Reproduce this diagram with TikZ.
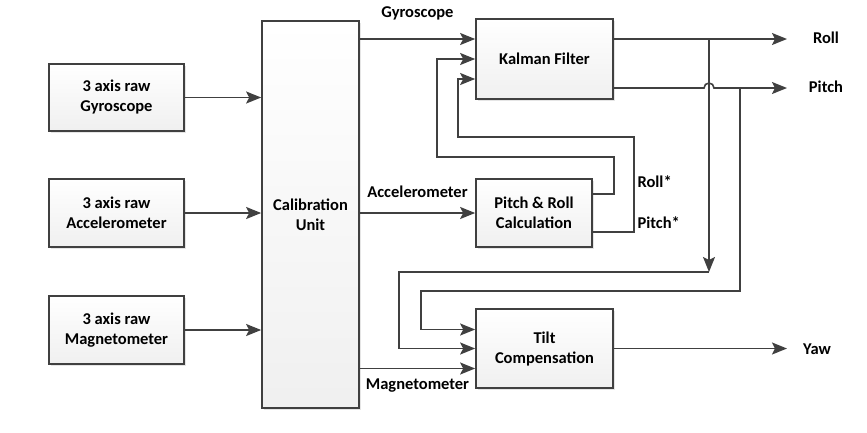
\documentclass[tikz,border=0pt]{standalone}
\usepackage{fontspec}
\setmainfont{Carlito}
\usetikzlibrary{arrows.meta,shadows}
\definecolor{linegray}{HTML}{404040}
\tikzset{
	block/.style={draw=linegray, line width=1.7pt, top color=white, bottom color=gray!12,
		drop shadow={shadow xshift=2pt, shadow yshift=-2pt, fill=gray!40, opacity=0.5},
		align=center, inner sep=0pt},
	wire/.style={draw=linegray, line width=1.6pt},
	arr/.style={wire, -{Stealth[length=15pt,width=12pt,inset=3pt]}},
}
\begin{document}
\begin{tikzpicture}[x=1pt, y=-1pt, font=\fontsize{16.5}{20}\selectfont\bfseries]
		\useasboundingbox (0,0) rectangle (867,432);
		\def\tipx{787}
		% blocks
		\node[block, minimum width=135pt, minimum height=67pt] (gyro) at (116.5,97.5) {3 axis raw\\Gyroscope};
		\node[block, minimum width=135pt, minimum height=68pt] (acc) at (116.5,213) {3 axis raw\\Accelerometer};
		\node[block, minimum width=135pt, minimum height=68pt] (mag) at (116.5,330) {3 axis raw\\Magnetometer};
		\node[block, minimum width=97pt, minimum height=387pt] (calib) at (310.5,214.5) {Calibration\\Unit};
		\node[block, minimum width=137pt, minimum height=80pt] (kalman) at (544.5,59) {Kalman Filter};
		\node[block, minimum width=116pt, minimum height=68pt] (prc) at (534,213) {Pitch \& Roll\\Calculation};
		\node[block, minimum width=137pt, minimum height=79pt] (tilt) at (544.5,348.5) {Tilt\\Compensation};
		% ports
		\coordinate (kin1) at ([yshift=20pt]kalman.west);
		\coordinate (kin3) at ([yshift=-20pt]kalman.west);
		\coordinate (kout1) at ([yshift=20pt]kalman.east);
		\coordinate (kout2) at ([yshift=-29pt]kalman.east);
		\coordinate (pout1) at ([yshift=19pt]prc.east);
		\coordinate (pout2) at ([yshift=-19pt]prc.east);
		\coordinate (tin1) at ([yshift=19pt]tilt.west);
		\coordinate (tin3) at ([yshift=-20pt]tilt.west);
		\coordinate (rollend) at (\tipx,39);
		\coordinate (pitchend) at (\tipx,88);
		\coordinate (yawend) at (\tipx,348.5);
		\coordinate (rj) at (709,39);
		\coordinate (rc) at (709,272);
		\coordinate (pj) at (740,88);
		% raw sensors into calibration
		\draw[arr] (gyro.east) -- (gyro.east -| calib.west);
		\draw[arr] (acc.east) -- (acc.east -| calib.west);
		\draw[arr] (mag.east) -- (mag.east -| calib.west);
		% calibrated signals
		\draw[arr] (calib.east |- kin1) -- (kin1) node[midway, above=15pt] {Gyroscope};
		\draw[arr] (calib.east |- prc.west) -- (prc.west) node[midway, above=11pt] {Accelerometer};
		\draw[arr] (calib.east |- tin3) -- (tin3) node[midway, below=6pt] {Magnetometer};
		% feedback into kalman filter
		\draw[arr] (pout1) -- ++(21,0) |- (437,157) |- (kalman.west);
		\draw[arr] (pout2) -- ++(41,0) |- (458,137) |- (kin3);
		\node[anchor=west] (rollstar) at (634,182) {Roll*};
		\node[anchor=west] (pitchstar) at (634,223) {Pitch*};
		% outputs
		\draw[arr] (kout1) -- (rollend);
		\draw[arr] (kout2) -- (704,88) arc (180:360:5) -- (pitchend);
		\draw[arr] (tilt.east) -- (yawend);
		\node (roll) at (826,38) {Roll};
		\node (pitch) at (826,87) {Pitch};
		\node (yaw) at (817,349) {Yaw};
		% roll and pitch into tilt compensation
		\draw[arr] (rj) -- (rc);
		\draw[arr] (rc) -- (399,272) |- (tilt.west);
		\draw[arr] (pj) |- (421,291) |- (tin1);
	\end{tikzpicture}
\end{document}
